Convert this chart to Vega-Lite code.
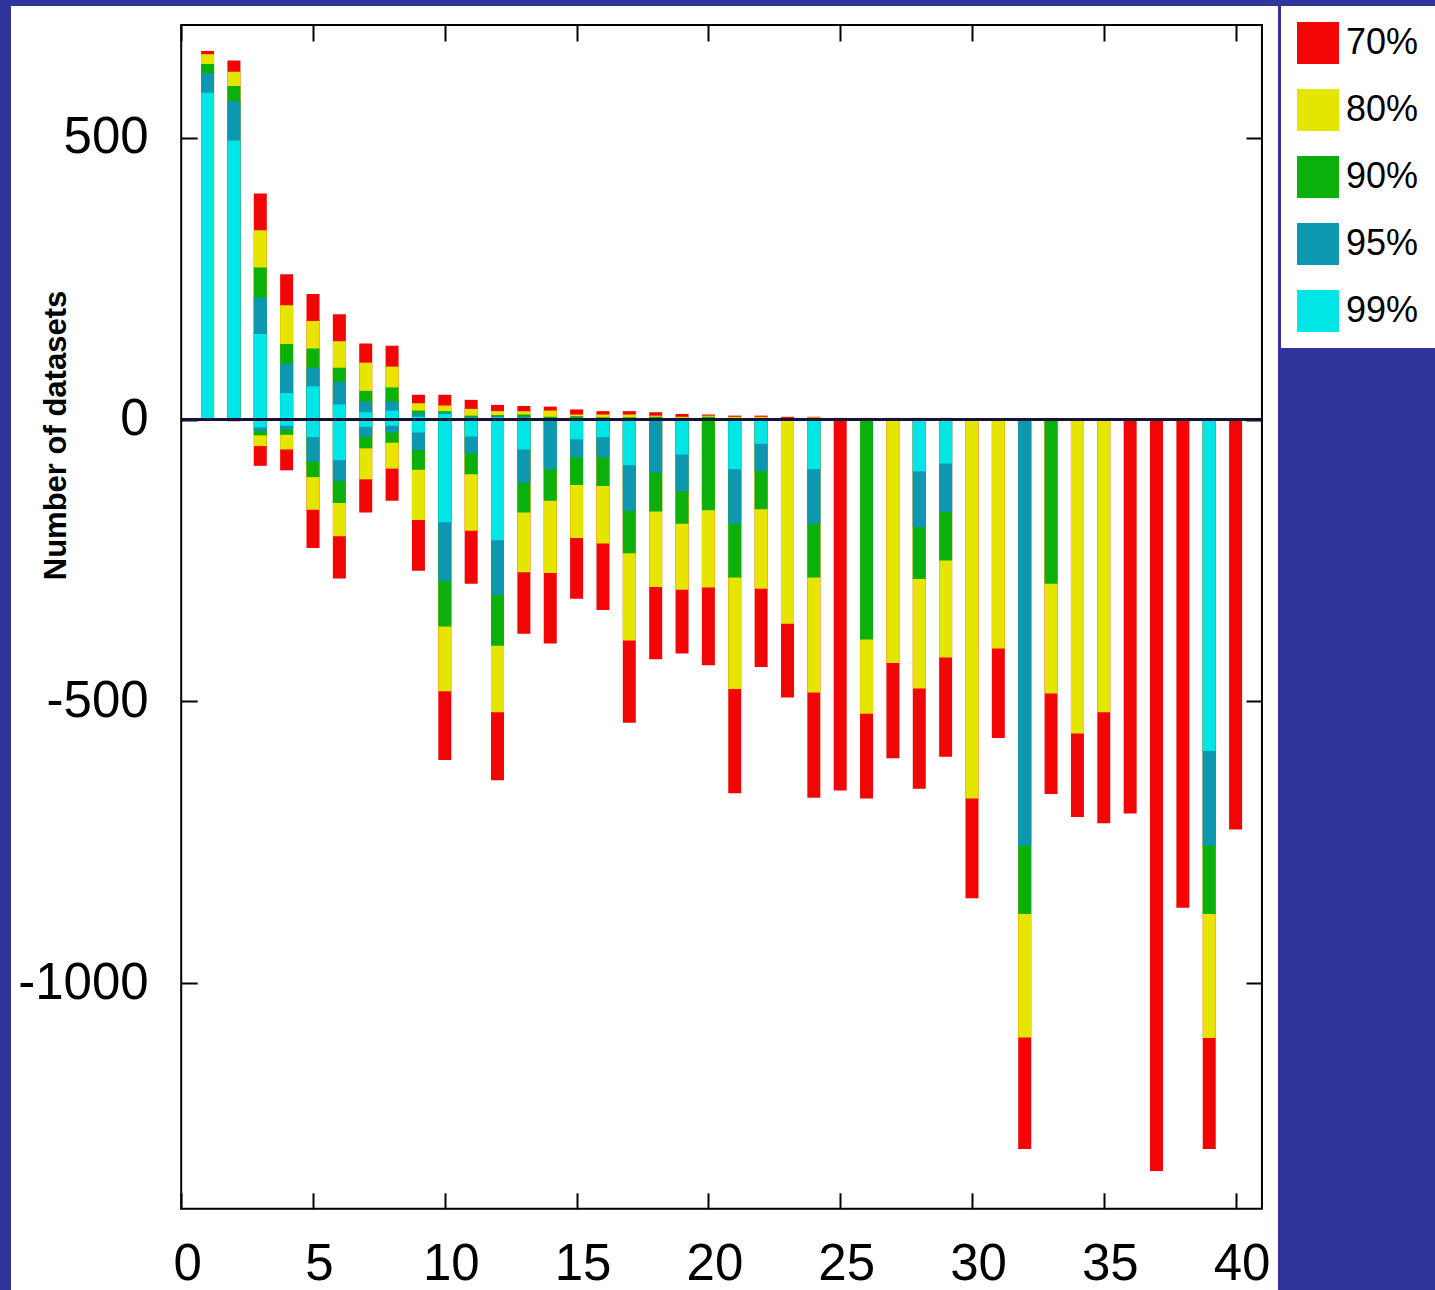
{
  "$schema": "https://vega.github.io/schema/vega-lite/v6.json",
  "width": 1267,
  "height": 1284,
  "padding": {"left": 11, "top": 6, "right": 0, "bottom": 0},
  "background": "#30359a",
  "config": {
    "view": {"fill": "white", "stroke": null},
    "axis": {
      "domain": false,
      "grid": false,
      "tickSize": -16,
      "tickWidth": 2,
      "tickColor": "black",
      "labelFont": "Liberation Sans",
      "labelFontSize": 51,
      "labelColor": "black",
      "labelFlush": false,
      "labelOverlap": false,
      "titleFont": "Liberation Sans",
      "titleFontSize": 31,
      "titleFontWeight": "bold",
      "titleColor": "black"
    }
  },
  "datasets": {
    "pos": [
      {"x": 1, "70%": 654, "80%": 648, "90%": 631, "95%": 614, "99%": 580},
      {"x": 2, "70%": 637, "80%": 617, "90%": 592, "95%": 565, "99%": 495},
      {"x": 3, "70%": 401, "80%": 336, "90%": 270, "95%": 216, "99%": 152},
      {"x": 4, "70%": 258, "80%": 203, "90%": 134, "95%": 99, "99%": 47},
      {"x": 5, "70%": 223, "80%": 175, "90%": 126, "95%": 92, "99%": 59},
      {"x": 6, "70%": 187, "80%": 139, "90%": 92, "95%": 67, "99%": 27},
      {"x": 7, "70%": 135, "80%": 101, "90%": 51, "95%": 32, "99%": 13},
      {"x": 8, "70%": 131, "80%": 94, "90%": 57, "95%": 32, "99%": 16},
      {"x": 9, "70%": 44, "80%": 29, "90%": 16, "95%": 11, "99%": 5},
      {"x": 10, "70%": 44, "80%": 25, "90%": 15, "95%": 13, "99%": 10},
      {"x": 11, "70%": 35, "80%": 19, "90%": 7, "95%": 5, "99%": 3},
      {"x": 12, "70%": 26, "80%": 15, "90%": 8, "95%": 6, "99%": 4},
      {"x": 13, "70%": 24, "80%": 15, "90%": 9, "95%": 5, "99%": 3},
      {"x": 14, "70%": 23, "80%": 16, "90%": 5, "95%": 3, "99%": 1},
      {"x": 15, "70%": 18, "80%": 9, "90%": 6, "95%": 3, "99%": 2},
      {"x": 16, "70%": 15, "80%": 9, "90%": 4, "95%": 2, "99%": 1},
      {"x": 17, "70%": 15, "80%": 9, "90%": 4, "95%": 3, "99%": 1},
      {"x": 18, "70%": 13, "80%": 7, "90%": 5, "95%": 3, "99%": 1},
      {"x": 19, "70%": 10, "80%": 5, "90%": 3, "95%": 2, "99%": 1},
      {"x": 20, "70%": 9, "80%": 7, "90%": 5, "95%": 1, "99%": 0},
      {"x": 21, "70%": 7, "80%": 5, "90%": 3, "95%": 2, "99%": 1},
      {"x": 22, "70%": 7, "80%": 5, "90%": 3, "95%": 2, "99%": 1},
      {"x": 23, "70%": 5, "80%": 3, "90%": 1, "95%": 0, "99%": 0},
      {"x": 24, "70%": 5, "80%": 4, "90%": 3, "95%": 2, "99%": 1},
      {"x": 25, "70%": 3, "80%": 1, "90%": 0, "95%": 0, "99%": 0},
      {"x": 26, "70%": 3, "80%": 2, "90%": 1, "95%": 0, "99%": 0},
      {"x": 27, "70%": 3, "80%": 2, "90%": 0, "95%": 0, "99%": 0},
      {"x": 28, "70%": 3, "80%": 2, "90%": 1, "95%": 1, "99%": 0},
      {"x": 29, "70%": 3, "80%": 2, "90%": 1, "95%": 1, "99%": 0},
      {"x": 30, "70%": 2, "80%": 1, "90%": 0, "95%": 0, "99%": 0},
      {"x": 31, "70%": 2, "80%": 1, "90%": 0, "95%": 0, "99%": 0},
      {"x": 32, "70%": 2, "80%": 1, "90%": 1, "95%": 1, "99%": 0},
      {"x": 33, "70%": 2, "80%": 1, "90%": 1, "95%": 0, "99%": 0},
      {"x": 34, "70%": 2, "80%": 1, "90%": 0, "95%": 0, "99%": 0},
      {"x": 35, "70%": 2, "80%": 1, "90%": 0, "95%": 0, "99%": 0},
      {"x": 36, "70%": 0, "80%": 0, "90%": 0, "95%": 0, "99%": 0},
      {"x": 37, "70%": 0, "80%": 0, "90%": 0, "95%": 0, "99%": 0},
      {"x": 38, "70%": 0, "80%": 0, "90%": 0, "95%": 0, "99%": 0},
      {"x": 39, "70%": 0, "80%": 0, "90%": 0, "95%": 0, "99%": 0},
      {"x": 40, "70%": 0, "80%": 0, "90%": 0, "95%": 0, "99%": 0}
    ],
    "neg": [
      {"x": 1, "70%": 0, "80%": 0, "90%": 0, "95%": 0, "99%": 0},
      {"x": 2, "70%": -3, "80%": 0, "90%": 0, "95%": 0, "99%": 0},
      {"x": 3, "70%": -82, "80%": -47, "90%": -28, "95%": -20, "99%": -14},
      {"x": 4, "70%": -90, "80%": -53, "90%": -27, "95%": -18, "99%": -11},
      {"x": 5, "70%": -228, "80%": -160, "90%": -102, "95%": -75, "99%": -31},
      {"x": 6, "70%": -282, "80%": -207, "90%": -148, "95%": -109, "99%": -72},
      {"x": 7, "70%": -165, "80%": -106, "90%": -51, "95%": -30, "99%": -13},
      {"x": 8, "70%": -144, "80%": -87, "90%": -41, "95%": -23, "99%": -11},
      {"x": 9, "70%": -268, "80%": -178, "90%": -89, "95%": -54, "99%": -23},
      {"x": 10, "70%": -604, "80%": -482, "90%": -367, "95%": -286, "99%": -182},
      {"x": 11, "70%": -291, "80%": -197, "90%": -97, "95%": -60, "99%": -30},
      {"x": 12, "70%": -640, "80%": -519, "90%": -401, "95%": -311, "99%": -214},
      {"x": 13, "70%": -380, "80%": -271, "90%": -165, "95%": -112, "99%": -53},
      {"x": 14, "70%": -397, "80%": -272, "90%": -144, "95%": -88, "99%": -2},
      {"x": 15, "70%": -318, "80%": -210, "90%": -116, "95%": -67, "99%": -35},
      {"x": 16, "70%": -338, "80%": -220, "90%": -118, "95%": -67, "99%": -31},
      {"x": 17, "70%": -538, "80%": -392, "90%": -237, "95%": -162, "99%": -81},
      {"x": 18, "70%": -425, "80%": -297, "90%": -163, "95%": -94, "99%": -2},
      {"x": 19, "70%": -415, "80%": -302, "90%": -185, "95%": -127, "99%": -62},
      {"x": 20, "70%": -436, "80%": -298, "90%": -161, "95%": -2, "99%": -1},
      {"x": 21, "70%": -663, "80%": -478, "90%": -280, "95%": -185, "99%": -88},
      {"x": 22, "70%": -439, "80%": -300, "90%": -159, "95%": -91, "99%": -43},
      {"x": 23, "70%": -493, "80%": -362, "90%": 0, "95%": 0, "99%": 0},
      {"x": 24, "70%": -671, "80%": -484, "90%": -280, "95%": -185, "99%": -88},
      {"x": 25, "70%": -658, "80%": 0, "90%": 0, "95%": 0, "99%": 0},
      {"x": 26, "70%": -672, "80%": -522, "90%": -390, "95%": 0, "99%": 0},
      {"x": 27, "70%": -601, "80%": -432, "90%": 0, "95%": 0, "99%": 0},
      {"x": 28, "70%": -655, "80%": -477, "90%": -283, "95%": -191, "99%": -92},
      {"x": 29, "70%": -598, "80%": -422, "90%": -250, "95%": -164, "99%": -78},
      {"x": 30, "70%": -849, "80%": -672, "90%": 0, "95%": 0, "99%": 0},
      {"x": 31, "70%": -565, "80%": -406, "90%": 0, "95%": 0, "99%": 0},
      {"x": 32, "70%": -1294, "80%": -1096, "90%": -877, "95%": -756, "99%": 0},
      {"x": 33, "70%": -664, "80%": -486, "90%": -291, "95%": 0, "99%": 0},
      {"x": 34, "70%": -705, "80%": -557, "90%": 0, "95%": 0, "99%": 0},
      {"x": 35, "70%": -716, "80%": -519, "90%": 0, "95%": 0, "99%": 0},
      {"x": 36, "70%": -699, "80%": 0, "90%": 0, "95%": 0, "99%": 0},
      {"x": 37, "70%": -1333, "80%": 0, "90%": 0, "95%": 0, "99%": 0},
      {"x": 38, "70%": -866, "80%": 0, "90%": 0, "95%": 0, "99%": 0},
      {"x": 39, "70%": -1294, "80%": -1097, "90%": -877, "95%": -756, "99%": -588},
      {"x": 40, "70%": -727, "80%": 0, "90%": 0, "95%": 0, "99%": 0}
    ]
  },
  "layer": [
    {
      "data": {"name": "pos"},
      "transform": [{"fold": ["70%", "80%", "90%", "95%", "99%"], "as": ["level", "count"]}],
      "mark": {"type": "bar", "width": 13},
      "encoding": {
        "x": {
          "field": "x", "type": "quantitative",
          "scale": {"domain": [-6.457, 41.609], "nice": false, "zero": false, "padding": 0},
          "axis": {"orient": "bottom", "offset": -81.2, "values": [0, 5, 10, 15, 20, 25, 30, 35, 40], "labelOffset": 6, "labelPadding": 47, "title": null}
        },
        "y": {
          "field": "count", "type": "quantitative", "stack": null,
          "scale": {"domain": [-1544.1, 733.7], "nice": false, "zero": false},
          "axis": {"orient": "left", "offset": -170.2, "values": [-1000, -500, 0, 500], "labelExpr": "'' + datum.value", "labelPadding": 49, "title": "Number of datasets", "titleAngle": -90, "titleX": -116, "titleY": 429, "titleAlign": "center", "titleBaseline": "alphabetic"}
        },
        "color": {
          "field": "level", "type": "nominal",
          "scale": {"domain": ["70%", "80%", "90%", "95%", "99%"], "range": ["#f20505", "#e5e500", "#0cb00c", "#0e97b0", "#00e5e5"]},
          "legend": {"title": null, "orient": "none", "legendX": 1270, "legendY": 0, "fillColor": "white", "padding": 16, "rowPadding": 25, "symbolType": "square", "symbolSize": 1764, "symbolStrokeWidth": 0, "symbolOpacity": 1, "labelFont": "Liberation Sans", "labelFontSize": 36, "labelColor": "black", "labelOffset": 7}
        }
      }
    },
    {
      "data": {"name": "neg"},
      "transform": [{"fold": ["70%", "80%", "90%", "95%", "99%"], "as": ["level", "count"]}],
      "mark": {"type": "bar", "width": 13},
      "encoding": {
        "x": {
          "field": "x", "type": "quantitative",
          "axis": {"orient": "top", "offset": -19, "values": [0, 5, 10, 15, 20, 25, 30, 35, 40], "labels": false, "title": null}
        },
        "y": {
          "field": "count", "type": "quantitative", "stack": null,
          "axis": {"orient": "right", "offset": -16, "values": [-1000, -500, 0, 500], "labels": false, "title": null}
        },
        "color": {"field": "level", "type": "nominal"}
      }
    },
    {
      "data": {"values": [{}]},
      "mark": {"type": "rule", "color": "#14143a", "strokeWidth": 3},
      "encoding": {
        "x": {"datum": 0, "type": "quantitative", "axis": null},
        "x2": {"datum": 41},
        "y": {"datum": 0, "type": "quantitative", "axis": null}
      }
    },
    {
      "data": {"values": [{}]},
      "mark": {"type": "rect", "fill": "transparent", "stroke": "black", "strokeWidth": 2},
      "encoding": {
        "x": {"datum": 0, "type": "quantitative", "axis": null},
        "x2": {"datum": 41},
        "y": {"datum": 700, "type": "quantitative", "axis": null},
        "y2": {"datum": -1400}
      }
    }
  ],
  "resolve": {"axis": {"x": "independent", "y": "independent"}}
}
